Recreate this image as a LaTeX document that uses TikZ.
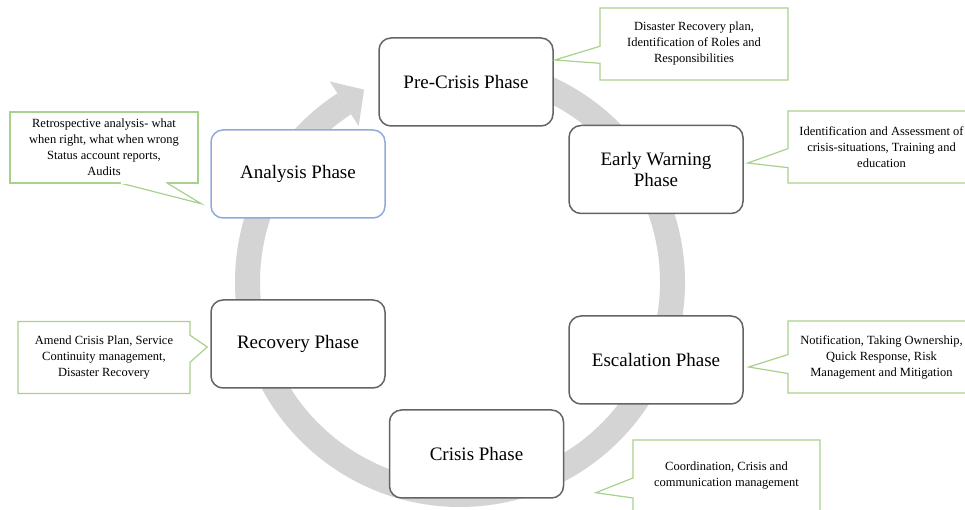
\documentclass[tikz,border=0pt]{standalone}
\usepackage{fontspec}
\setmainfont{Liberation Serif}
\usetikzlibrary{shapes.callouts}
\definecolor{ringgray}{RGB}{212,212,212}
\definecolor{notegreen}{RGB}{169,209,142}
\definecolor{phaseblue}{RGB}{143,170,220}
\definecolor{phasegray}{RGB}{100,100,100}

\begin{document}
\begin{tikzpicture}[x=1pt,y=1pt,
  phase/.style={draw=#1,line width=1.5pt,rounded corners=12pt,fill=white,
    minimum width=174pt,minimum height=88pt,align=center,
    font=\fontsize{19}{21}\selectfont},
  note/.style={rectangle callout,draw=notegreen,line width=1.2pt,fill=white,
    minimum width=188pt,minimum height=72pt,inner sep=2pt,align=center,
    font=\fontsize{12.5}{16}\selectfont}]
  \clip (0,0) rectangle (965,510);
  \fill[white] (0,0) rectangle (965,510);
  \begin{scope}[shift={(460,228)}]
    \draw[ringgray,line width=25pt] (95:212.5) arc[start angle=95,end angle=-237,radius=212.5];
    \fill[ringgray] (123:186) -- (123:239) -- (116.5:215) -- cycle;
  \end{scope}
  \foreach \n/\x/\y/\c/\t in {pre/466/428/phasegray/Pre-Crisis Phase,
      warn/656/340.5/phasegray/Early Warning\\Phase,
      esc/656/150/phasegray/Escalation Phase,
      crisis/476.5/56/phasegray/Crisis Phase,
      recov/298/166/phasegray/Recovery Phase,
      analysis/298/336/phaseblue/Analysis Phase} {
    \node[phase=\c] (\n) at (\x,\y) {\t};
  }
  \node[note,callout absolute pointer={([shift={(1,22)}]pre.east)},callout pointer width=17pt]
    (prenote) at (694,466) {Disaster Recovery plan,\\Identification of Roles and\\Responsibilities};
  \node[note,minimum width=187pt,callout absolute pointer={([shift={(4,6.5)}]warn.east)},callout pointer width=19pt]
    (warnnote) at (881.5,363) {Identification and Assessment of\\crisis-situations, Training and\\education};
  \node[note,rectangle,outer sep=0pt,minimum height=71pt]
    (analysisnote) at (104,362.5) {Retrospective analysis- what\\when right, what when wrong\\Status account reports,\\Audits};
  \filldraw[draw=notegreen,fill=white,line width=1.2pt,line join=miter] ([xshift=16pt]analysisnote.south)
    -- ([shift={(-9,15)}]analysis.south west) -- ([xshift=63pt]analysisnote.south);
  \draw[white,line width=1.6pt] ([xshift=16.8pt]analysisnote.south) -- ([xshift=62pt]analysisnote.south);
  \node[note,minimum width=172pt,callout absolute pointer={([shift={(-3,-3)}]recov.west)},callout pointer width=27pt]
    (recovnote) at (104,152.5) {Amend Crisis Plan, Service\\Continuity management,\\Disaster Recovery};
  \node[note,minimum width=187pt,callout absolute pointer={([shift={(5,-7)}]esc.east)},callout pointer width=19pt]
    (escnote) at (881.5,153) {Notification, Taking Ownership,\\Quick Response, Risk\\Management and Mitigation};
  \node[note,minimum width=187pt,callout absolute pointer={([shift={(31.5,6)}]crisis.south east)},callout pointer width=20pt]
    (crisisnote) at (726.5,34) {Coordination, Crisis and\\communication management};
\end{tikzpicture}
\end{document}
